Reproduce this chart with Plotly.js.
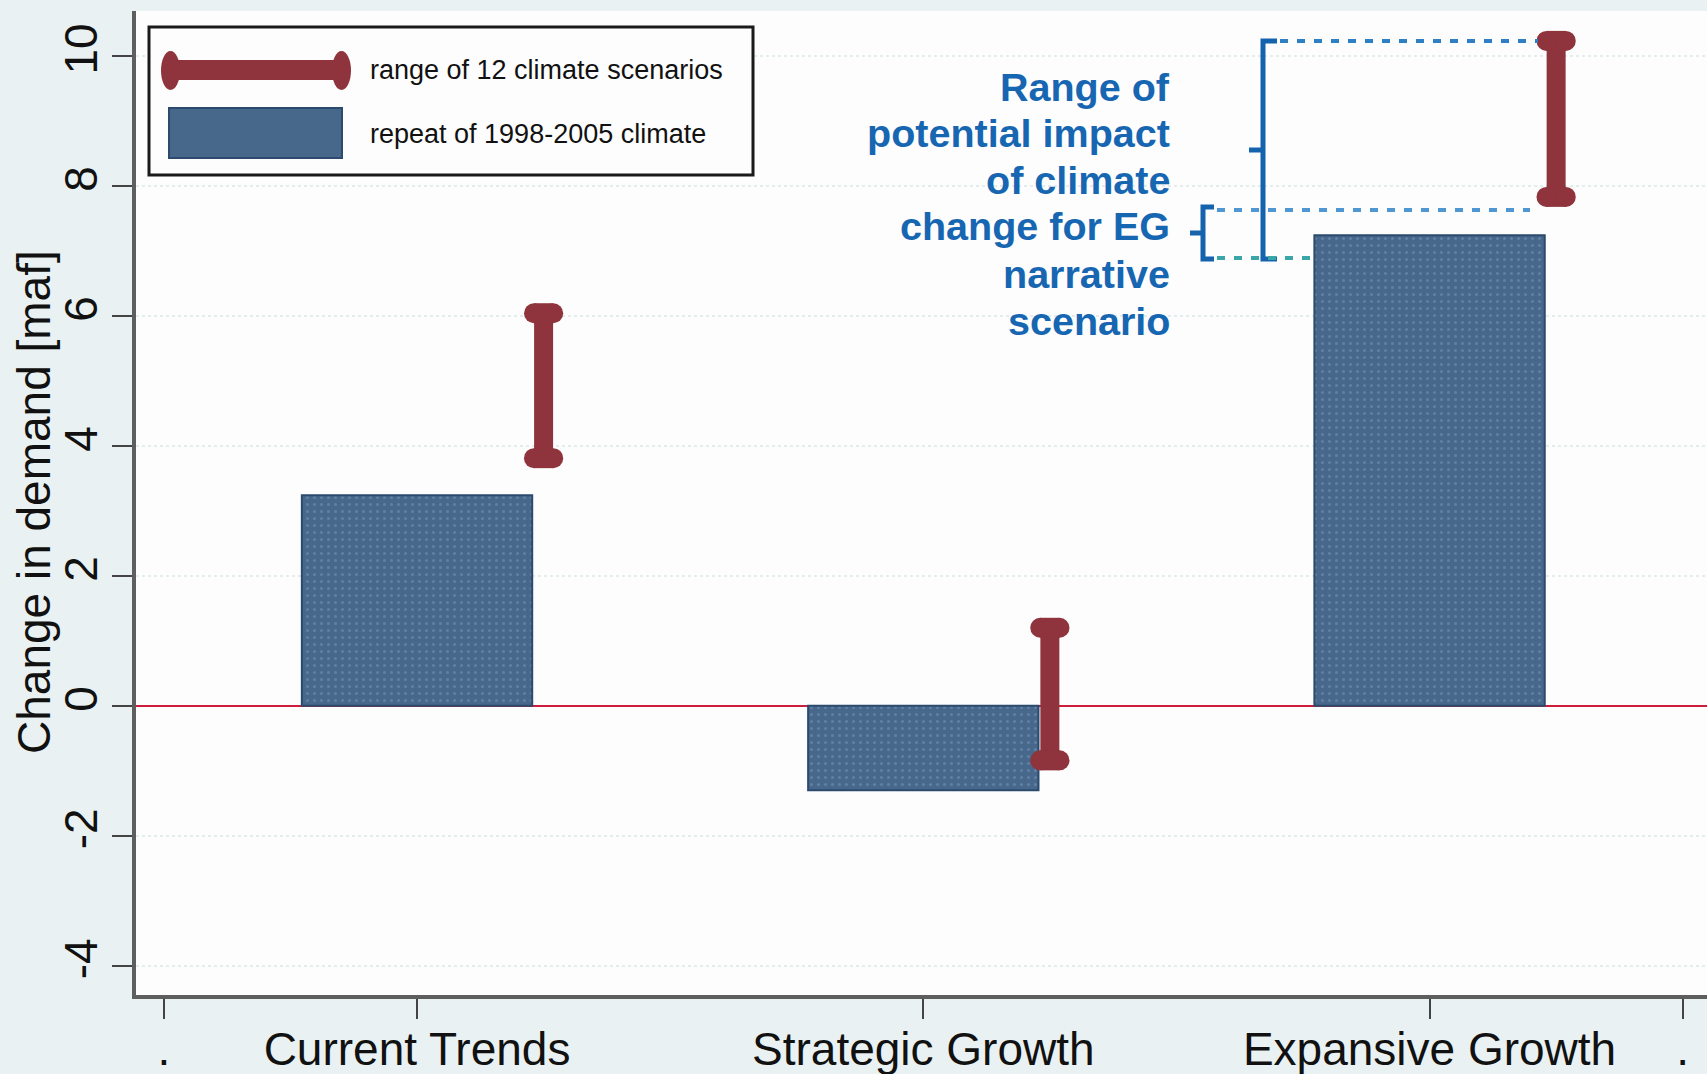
<!DOCTYPE html>
<html>
<head>
<meta charset="utf-8">
<script src="https://cdn.plot.ly/plotly-3.0.1.min.js"></script>
<style>
  html, body { margin: 0; padding: 0; background: #e9f1f3; }
  #chart { width: 1707px; height: 1074px; }
</style>
</head>
<body>
<div id="chart"></div>
<script>
// ---------------- DATA ----------------
const categories = ["Current Trends", "Strategic Growth", "Expansive Growth"];
const catPos = [1, 2, 3];
const repeatClimate = [3.24, -1.30, 7.24];      // repeat of 1998-2005 climate
const rangeLow = [3.81, -0.84, 7.83];           // range of 12 climate scenarios (low)
const rangeHigh = [6.04, 1.20, 10.23];          // range of 12 climate scenarios (high)
const tickVals = [0.5, 1, 2, 3, 3.5];
const tickLabels = [".", "Current Trends", "Strategic Growth", "Expansive Growth", "."];
const yTicks = [-4, -2, 0, 2, 4, 6, 8, 10];
const yTitle = "Change in demand [maf]";
const legendLabels = ["range of 12 climate scenarios", "repeat of 1998-2005 climate"];
const noteLines = ["Range of", "potential impact", "of climate", "change for EG", "narrative", "scenario"];

// ---------------- STYLE ----------------
const FONT = "Liberation Sans, Arial, Helvetica, sans-serif";
const RED = "#8f343c";
const BLUE = "#48688b";
const BLUE_EDGE = "#2b4a6e";
const NOTE_BLUE = "#1766b2";

// plot geometry (pixels)
const L = 136, T = 11, B = 995, R = 1707;
const px = v => (v - L) / (R - L);
const py = v => (B - v) / (B - T);

const errOffset = 0.25;
const capHalf = 0.019;

const traces = [];
traces.push({
  type: "bar",
  x: catPos,
  y: repeatClimate,
  width: 0.455,
  marker: {
    color: BLUE,
    line: { color: BLUE_EDGE, width: 2 },
    pattern: { shape: ".", fgcolor: "#5f80a3", bgcolor: BLUE, size: 7, solidity: 0.15 }
  },
  hoverinfo: "skip",
  showlegend: false
});

catPos.forEach((c, i) => {
  const xe = c + errOffset;
  traces.push({
    type: "scatter", mode: "lines",
    x: [xe, xe], y: [rangeLow[i], rangeHigh[i]],
    line: { color: RED, width: 19 },
    hoverinfo: "skip", showlegend: false
  });
  [rangeLow[i], rangeHigh[i]].forEach(v => {
    traces.push({
      type: "scatter", mode: "lines+markers",
      x: [xe - capHalf, xe + capHalf], y: [v, v],
      line: { color: RED, width: 20 },
      marker: { color: RED, size: 20, symbol: "circle", line: { width: 0 } },
      hoverinfo: "skip", showlegend: false
    });
  });
});

// ---------------- DECORATIONS ----------------
const shapes = [];
const annotations = [];

// y-axis title
annotations.push({ xref: "paper", yref: "paper", x: px(34), y: py(502),
  xanchor: "center", yanchor: "middle", textangle: -90, showarrow: false,
  text: yTitle, font: { family: FONT, size: 46, color: "#111" } });

// white box behind explanatory note (hides gridlines)
shapes.push({ type: "rect", xref: "paper", yref: "paper",
  x0: px(833), x1: px(1190), y0: py(345), y1: py(13),
  fillcolor: "#fdfdfd", line: { width: 0 }, layer: "between" });

// legend box
shapes.push({ type: "rect", xref: "paper", yref: "paper",
  x0: px(149), x1: px(753), y0: py(175), y1: py(27),
  fillcolor: "#fdfdfd", line: { color: "#1a1a1a", width: 3 } });
shapes.push({ type: "line", xref: "paper", yref: "paper",
  x0: px(170), x1: px(342), y0: py(70), y1: py(70),
  line: { color: RED, width: 20 } });
shapes.push({ type: "circle", xref: "paper", yref: "paper",
  x0: px(161), x1: px(180), y0: py(90), y1: py(51),
  fillcolor: RED, line: { width: 0 } });
shapes.push({ type: "circle", xref: "paper", yref: "paper",
  x0: px(332), x1: px(351), y0: py(90), y1: py(51),
  fillcolor: RED, line: { width: 0 } });
shapes.push({ type: "rect", xref: "paper", yref: "paper",
  x0: px(169), x1: px(342), y0: py(158), y1: py(108),
  fillcolor: BLUE, line: { color: BLUE_EDGE, width: 2 } });

legendLabels.forEach((t, i) => {
  annotations.push({ xref: "paper", yref: "paper", x: px(368), y: py(i === 0 ? 70 : 134),
    xanchor: "left", yanchor: "middle", showarrow: false, text: t,
    font: { family: FONT, size: 27, color: "#111" } });
});

// explanatory note
const noteY = [87, 133, 180, 226, 274, 321];
noteLines.forEach((t, i) => {
  annotations.push({ xref: "paper", yref: "paper", x: px(1172), y: py(noteY[i]),
    xanchor: "right", yanchor: "middle", showarrow: false,
    text: "<b>" + t + "</b>",
    font: { family: FONT, size: 39.5, color: NOTE_BLUE } });
});

// brackets
function pathFrom(points) {
  return points.map(p => (p[0] === "M" ? "M" : "L") + px(p[1]) + "," + py(p[2])).join(" ");
}
shapes.push({ type: "path", xref: "paper", yref: "paper",
  path: pathFrom([["M",1277,41],["L",1263,41],["L",1263,150],["L",1249,150],["M",1263,150],["L",1263,259],["L",1277,259]]),
  line: { color: "#1563ad", width: 5 } });
shapes.push({ type: "path", xref: "paper", yref: "paper",
  path: pathFrom([["M",1214,207],["L",1203,207],["L",1203,233],["L",1190,233],["M",1203,233],["L",1203,259],["L",1214,259]]),
  line: { color: "#1563ad", width: 5 } });

// dotted guide lines
shapes.push({ type: "line", xref: "paper", yref: "paper",
  x0: px(1280), x1: px(1538), y0: py(41), y1: py(41),
  line: { color: "#2f7fc4", width: 4, dash: "8px,9px" } });
shapes.push({ type: "line", xref: "paper", yref: "paper",
  x0: px(1217), x1: px(1530), y0: py(210), y1: py(210),
  line: { color: "#4f97d2", width: 4, dash: "8px,9px" } });
shapes.push({ type: "line", xref: "paper", yref: "paper",
  x0: px(1217), x1: px(1312), y0: py(258), y1: py(258),
  line: { color: "#3aa6a8", width: 4, dash: "8px,9px" } });

const layout = {
  width: 1707, height: 1074,
  margin: { l: L, r: 0, t: T, b: 1074 - B, pad: 0 },
  paper_bgcolor: "#e9f1f3",
  plot_bgcolor: "#fdfdfd",
  showlegend: false,
  font: { family: FONT, color: "#111" },
  xaxis: {
    range: [0.4449, 3.548],
    tickmode: "array", tickvals: tickVals, ticktext: tickLabels,
    ticks: "outside", ticklen: 20, tickwidth: 2, tickcolor: "#444",
    tickfont: { family: FONT, size: 46, color: "#111" },
    ticklabelstandoff: -9,
    showline: true, linecolor: "#5e5e5e", linewidth: 4,
    showgrid: false, zeroline: false, fixedrange: true,
    automargin: false
  },
  yaxis: {
    range: [-4.45, 10.69],
    tickmode: "array", tickvals: yTicks, ticktext: yTicks.map(String),
    tickangle: -90,
    ticks: "outside", ticklen: 20, tickwidth: 2, tickcolor: "#444",
    tickfont: { family: FONT, size: 46, color: "#111" },
    ticklabelstandoff: -3,
    showline: true, linecolor: "#5e5e5e", linewidth: 4,
    showgrid: true, gridcolor: "#e4eded", gridwidth: 2, griddash: "dot",
    zeroline: true, zerolinecolor: "#cf1d3d", zerolinewidth: 2,
    fixedrange: true, automargin: false
  },
  bargap: 0,
  shapes: shapes,
  annotations: annotations
};

Plotly.newPlot("chart", traces, layout, { displayModeBar: false, staticPlot: true });
</script>
</body>
</html>
